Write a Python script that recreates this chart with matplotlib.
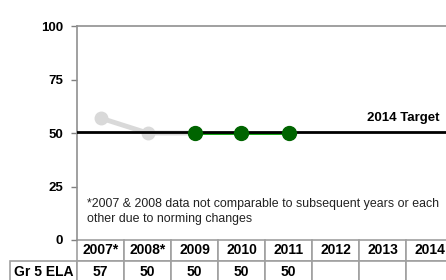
import matplotlib
matplotlib.use("Agg")
import matplotlib.pyplot as plt

plt.rcParams['font.family'] = ['Liberation Sans', 'DejaVu Sans']

# Data
years = ['2007*', '2008*', '2009', '2010', '2011', '2012', '2013', '2014']
old_idx = [0, 1, 2]
old_vals = [57, 50, 50]          # not comparable (norming changes)
new_idx = [2, 3, 4]
new_vals = [50, 50, 50]
target = 50.6
row_label = 'Gr 5 ELA'
row_vals = ['57', '50', '50', '50', '50', '', '', '']
yticks = [0, 25, 50, 75, 100]
note = ('*2007 & 2008 data not comparable to subsequent years or each\n'
        'other due to norming changes')

fig = plt.figure(figsize=(4.46, 2.8), dpi=100)
ax = fig.add_axes([77 / 446, 40 / 280, 376 / 446, 214 / 280])

ax.axhline(target, color='black', lw=2, zorder=3)
ax.plot(old_idx, old_vals, color='#d9d9d9', lw=3.5, marker='o', ms=9,
        mec='#d9d9d9', mfc='#d9d9d9', zorder=2)
ax.plot(new_idx, new_vals, color='#00a000', lw=2, zorder=2)
ax.plot(new_idx, new_vals, ls='none', marker='o', ms=10,
        mfc='#006400', mec='#006400', zorder=4)

ax.text(7.22, target + 3.5, '2014 Target', ha='right', va='bottom',
        fontsize=9.5, fontweight='bold')
ax.text(-0.29, 13.3, note, ha='left', va='center', fontsize=8.9,
        linespacing=1.25, color='#222222')

ax.set_xlim(-0.5, len(years) - 0.5)
ax.set_ylim(0, 100)
ax.set_yticks(yticks)
ax.set_xticks([])
ax.tick_params(axis='y', colors='#808080', length=4, width=1, pad=6,
               labelcolor='black', labelsize=9.5)
for lbl in ax.get_yticklabels():
    lbl.set_fontweight('bold')

for side in ['left', 'top', 'right']:
    ax.spines[side].set_color('#909090')
    ax.spines[side].set_linewidth(1.2)
ax.spines['bottom'].set_visible(False)

tbl = ax.table(cellText=[row_vals], rowLabels=[row_label], colLabels=years,
               colWidths=[1 / len(years)] * len(years),
               cellLoc='center', rowLoc='left',
               bbox=[0, -42 / 214, 1, 42 / 214])
tbl.auto_set_font_size(False)
for (r, c), cell in tbl.get_celld().items():
    cell.set_edgecolor('#a0a0a0')
    cell.set_linewidth(1.2)
    cell.get_text().set_fontsize(10)
    cell.get_text().set_fontweight('bold')
    if c == -1:
        cell.set_width(68 / 376)
        cell.PAD = 0.06

plt.savefig('out.png', dpi=100)
